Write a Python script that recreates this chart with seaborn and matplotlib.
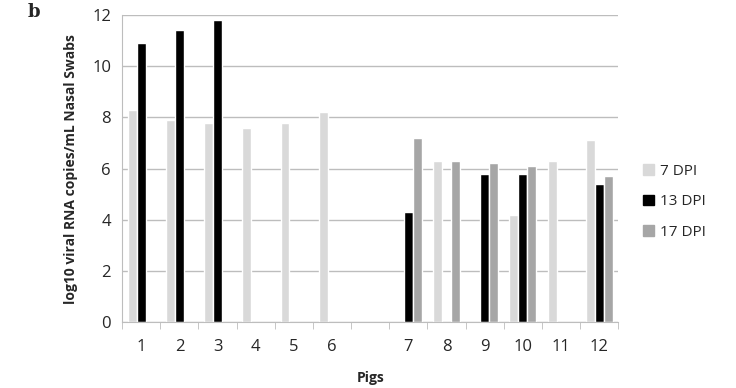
import numpy as np
import pandas as pd
import seaborn as sns
import matplotlib.pyplot as plt
from matplotlib.patches import Patch

# ---- data ----
pigs = ["1", "2", "3", "4", "5", "6", " ", "7", "8", "9", "10", "11", "12"]
series = ["7 DPI", "13 DPI", "17 DPI"]
dpi7 = [8.3, 7.9, 7.8, 7.6, 7.8, 8.2, np.nan, np.nan, 6.3, np.nan, 4.2, 6.3, 7.1]
dpi13 = [10.9, 11.4, 11.8, np.nan, np.nan, np.nan, np.nan, 4.3, np.nan, 5.8, 5.8, np.nan, 5.4]
dpi17 = [np.nan, np.nan, np.nan, np.nan, np.nan, np.nan, np.nan, 7.2, 6.3, 6.2, 6.1, np.nan, 5.7]
colors = ["#d9d9d9", "#000000", "#a6a6a6"]

df = pd.DataFrame({"pig": pigs * 3,
                   "dpi": np.repeat(series, len(pigs)),
                   "value": dpi7 + dpi13 + dpi17})

sns.set_style("white")
plt.rcParams["font.family"] = ["Open Sans", "DejaVu Sans"]

fig = plt.figure(figsize=(7.36, 3.88), dpi=100)
ax = fig.add_axes([0.166, 0.17, 0.674, 0.791])

sns.barplot(data=df.dropna(), x="pig", y="value", hue="dpi",
            order=pigs, hue_order=series, palette=colors,
            width=0.7, errorbar=None, ax=ax, legend=False)

ax.set_xlim(-0.5, len(pigs) - 0.5)
ax.set_ylim(0, 12)
ax.set_yticks(range(0, 13, 2))
ax.yaxis.grid(True, color="#bdbdbd", linewidth=1)
ax.set_axisbelow(True)
for s in ["top", "right"]:
    ax.spines[s].set_visible(False)
for s in ["left", "bottom"]:
    ax.spines[s].set_color("#bdbdbd")

# Excel style ticks between categories
ax.set_xticks(np.arange(-0.5, len(pigs)), minor=True)
ax.tick_params(axis="x", which="minor", length=5, color="#bdbdbd", direction="out", bottom=True)
ax.tick_params(axis="x", which="major", length=0, pad=12, labelsize=12)
ax.tick_params(axis="y", length=0, labelsize=12, pad=8)

ax.set_xlabel("Pigs", fontsize=10, fontweight="bold", labelpad=12)
ax.set_ylabel("log10 viral RNA copies/mL Nasal Swabs", fontsize=10, fontweight="bold", labelpad=10)

handles = [Patch(color=c, label=l) for c, l in zip(colors, series)]
fig.legend(handles=handles, loc="center left", bbox_to_anchor=(0.855, 0.48),
           frameon=False, fontsize=11, handlelength=0.7, handleheight=0.7,
           handletextpad=0.4, labelspacing=1.0)

fig.text(0.038, 0.955, "b", fontsize=13, fontweight="bold", family="DejaVu Serif")

fig.savefig("out.png", dpi=100)
